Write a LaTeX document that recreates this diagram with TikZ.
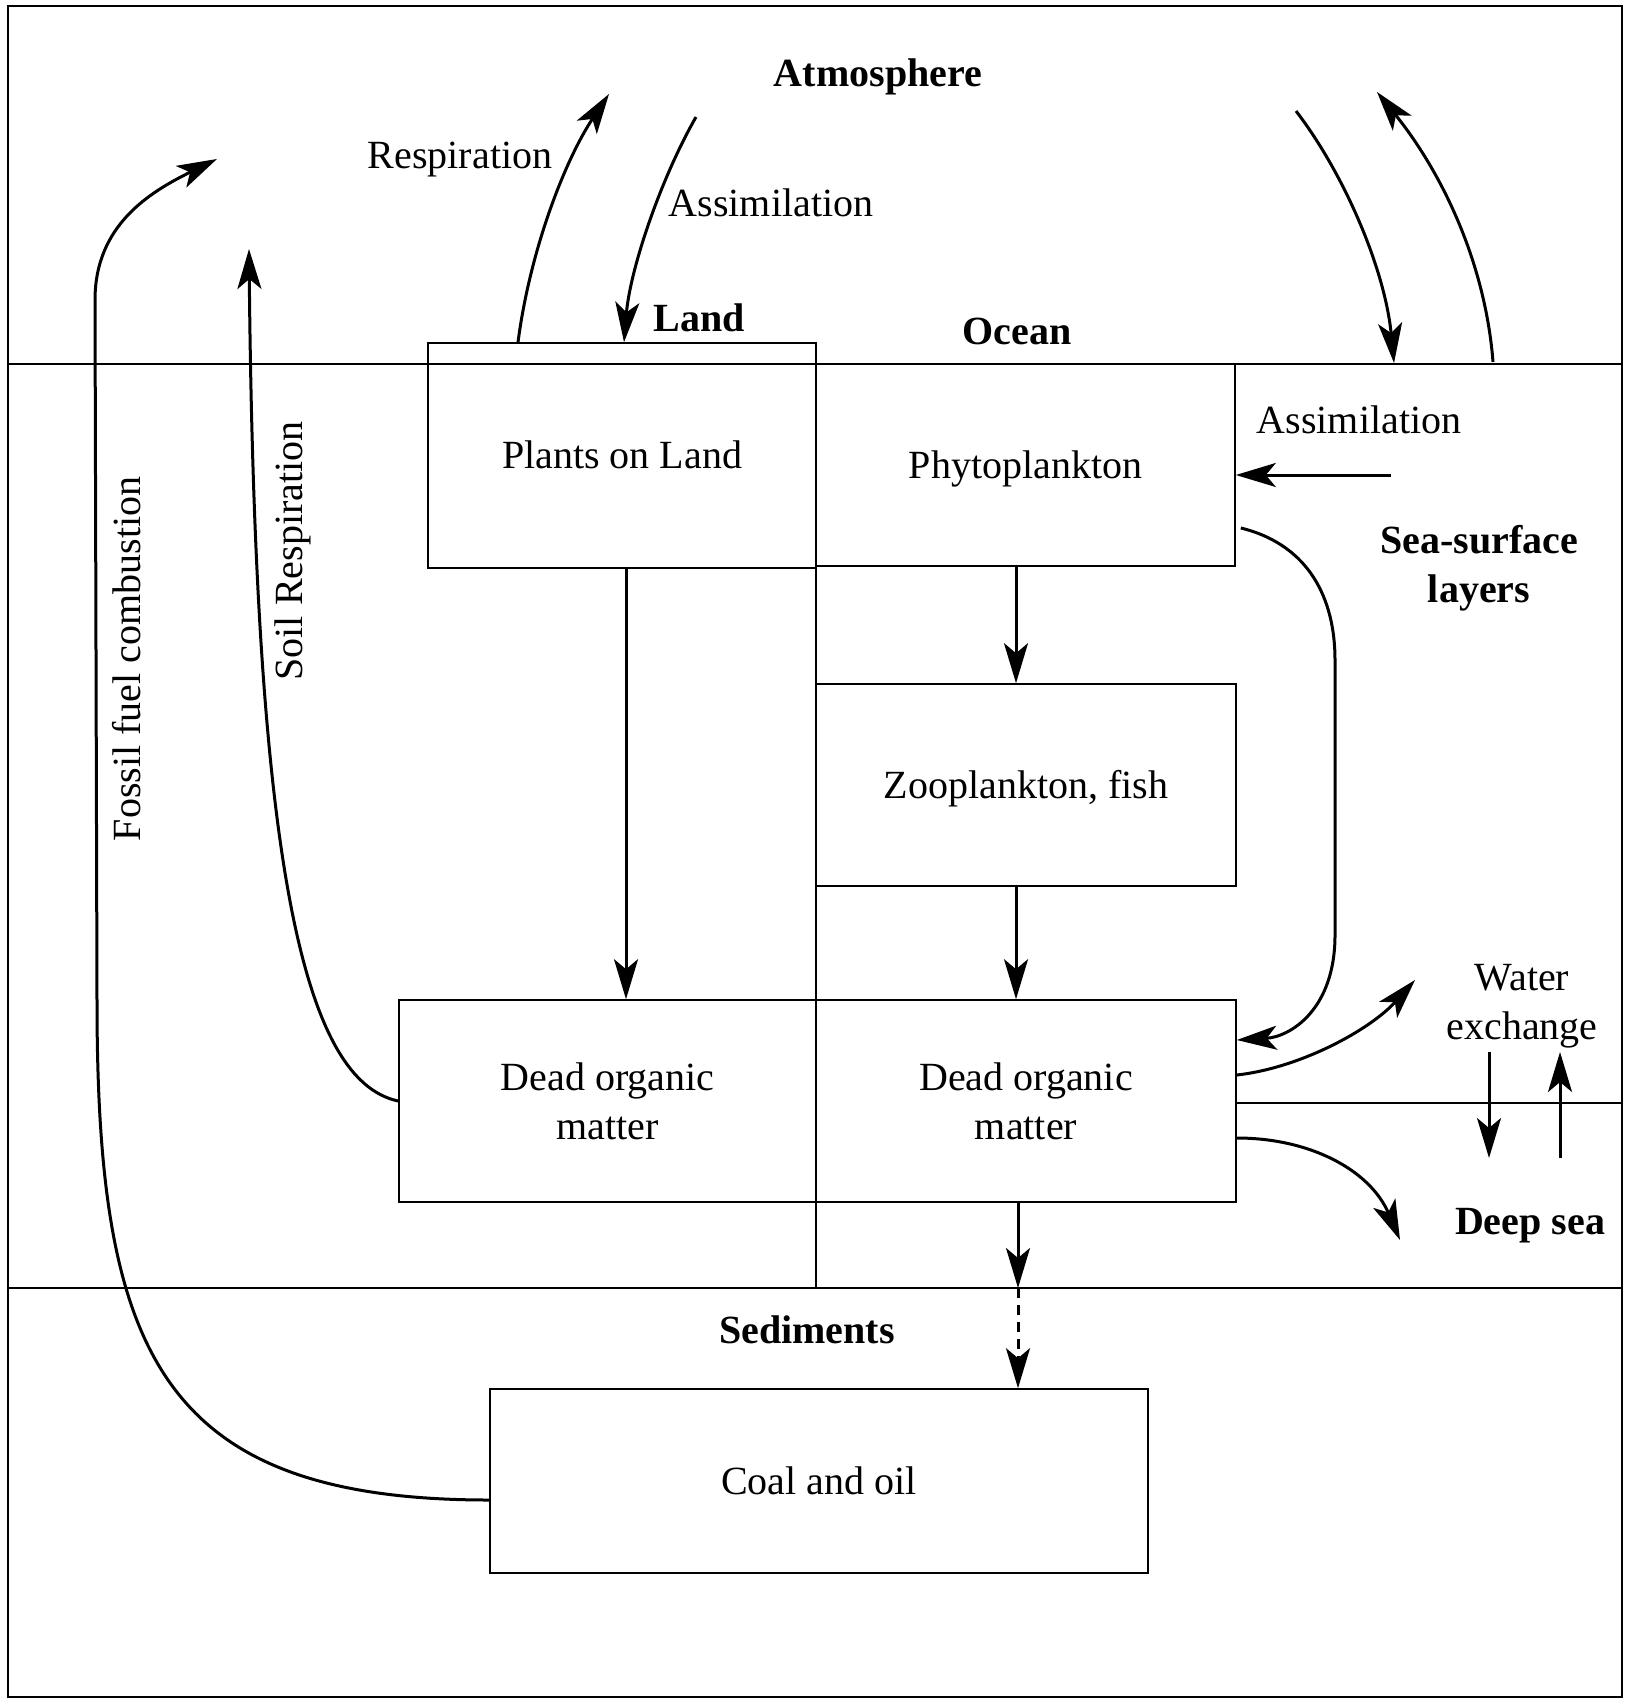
\documentclass[tikz,border=0pt]{standalone}
\usepackage{fontspec}
\setmainfont{Liberation Serif}
\usetikzlibrary{arrows.meta,calc}
\begin{document}
\begin{tikzpicture}[x=0.5pt,y=-0.5pt,
  txt/.style={font=\fontsize{20}{24.5}\selectfont},
  box/.style={txt,draw,line width=0.8pt,rectangle,inner sep=0pt,align=center},
  onerow/.style={text height=13.24pt,text depth=0pt},
  lbl/.style={txt,align=center,inner sep=0pt},
  bold/.style={lbl,font=\fontsize{20}{24.5}\selectfont\bfseries},
  flow/.style={line width=1.5pt,-{Stealth[length=20pt,width=12pt,inset=5pt]}},
  layer/.style={line width=0.8pt}]
\useasboundingbox (0,0) rectangle (1630,1700);

% frame and layer boundaries
\draw[layer] (8,6) rectangle (1622,1697);
\coordinate (atmL) at (8,364);
\coordinate (atmR) at (1622,364);
\coordinate (sedL) at (8,1288);
\coordinate (sedR) at (1622,1288);
\coordinate (divTop) at (816,343);
\coordinate (divBot) at (816,1288);
\draw[layer] (atmL) -- (atmR);
\draw[line width=1.3pt] (sedL) -- (sedR);
\draw[layer] (divTop) -- (divBot);

% compartments
\node[box,onerow,minimum width=194pt,minimum height=112.5pt] (plants) at (622,455.5) {Plants on Land};
\node[box,onerow,minimum width=209.5pt,minimum height=101pt] (phyto) at (1025.5,465) {Phytoplankton};
\node[box,onerow,minimum width=210pt,minimum height=101pt] (zoo) at (1026,785) {Zooplankton, fish};
\node[box,minimum width=208.5pt,minimum height=101pt] (ldom) at (607.5,1101) {Dead organic\\matter};
\node[box,minimum width=210pt,minimum height=101pt] (odom) at (1026,1101) {Dead organic\\matter};
\node[box,onerow,minimum width=329pt,minimum height=92pt] (coal) at (819,1481) {Coal and oil};
\coordinate (deepL) at (1236,1103);
\coordinate (deepR) at (1622,1103);
\draw[layer] (deepL) -- (deepR);

% labels
\node[bold] at (878,77) {Atmosphere};
\node[lbl] at (460,160) {Respiration};
\node[lbl] at (771,203) {Assimilation};
\node[bold] at (699,318) {Land};
\node[bold] at (1017,331) {Ocean};
\node[lbl] at (1359,420) {Assimilation};
\node[bold] at (1479,568) {Sea-surface\\layers};
\node[lbl] at (1522,1006) {Water\\exchange};
\node[bold] at (1530,1226) {Deep sea};
\node[bold] at (807,1330) {Sediments};
\node[lbl,rotate=90] at (127,659) {Fossil fuel combustion};
\node[lbl,rotate=90] at (293,551) {Soil Respiration};

% free ends of the fluxes
\coordinate (fossil-end) at (217,159);
\coordinate (soil-end) at (249,249);
\coordinate (resp-end) at (609,94);
\coordinate (assim-start) at (696,117);
\coordinate (oin-start) at (1296,111);
\coordinate (oin-end) at (1394,363);
\coordinate (oout-start) at (1493,362);
\coordinate (oout-end) at (1377,92);
\coordinate (oa-start) at (1391,475);
\coordinate (wx-end) at (1415,980);
\coordinate (deep-end) at (1400,1240);
\coordinate (down-start) at (1489,1052);
\coordinate (down-end) at (1489,1158);
\coordinate (up-start) at (1560,1158);
\coordinate (up-end) at (1560,1052);

% land fluxes
\draw[flow] ([yshift=-9.5pt]coal.west) .. controls (158,1500) and (97,1350) .. (97,1000)
  -- (95,300) .. controls (95,225) and (150,192) .. (fossil-end);
\draw[flow] (ldom.west) .. controls (300,1080) and (255,850) .. (soil-end);
\draw[flow] ([xshift=-52pt]plants.north) .. controls (530,250) and (565,160) .. (resp-end);
\draw[flow] (assim-start) .. controls (660,180) and (630,270) .. ([xshift=1pt]plants.north);
\coordinate (pl-out) at ([xshift=2pt]plants.south);
\draw[flow] (pl-out) -- (pl-out |- ldom.north);

% ocean fluxes
\draw[flow] (oin-start) .. controls (1345,175) and (1385,270) .. (oin-end);
\draw[flow] (oout-start) .. controls (1485,260) and (1440,170) .. (oout-end);
\draw[flow] (oa-start) -- (phyto.east |- oa-start);
\coordinate (ph-out) at ([xshift=-4.75pt]phyto.south);
\draw[flow] (ph-out) -- (ph-out |- zoo.north);
\coordinate (zo-out) at ([xshift=-5pt]zoo.south);
\draw[flow] (zo-out) -- (zo-out |- odom.north);
\draw[flow] ([shift={(2.5pt,-31.5pt)}]phyto.east) .. controls (1310,545) and (1335,600) .. (1335,660)
  -- (1335,935) .. controls (1335,1010) and (1290,1037) .. ([yshift=30.5pt]odom.east);
\draw[flow] ([yshift=13pt]odom.east) .. controls (1300,1068) and (1370,1030) .. (wx-end);
\draw[flow] ([yshift=-18.5pt]odom.east) .. controls (1310,1138) and (1370,1170) .. (deep-end);
\draw[flow] (down-start) -- (down-end);
\draw[flow] (up-start) -- (up-end);

% burial into the sediments
\coordinate (od-out) at ([xshift=-4pt]odom.south);
\draw[flow] (od-out) -- (od-out |- sedL);
\draw[flow,dash pattern=on 5pt off 3.5pt] (od-out |- sedL) -- (od-out |- coal.north);
\end{tikzpicture}
\end{document}
